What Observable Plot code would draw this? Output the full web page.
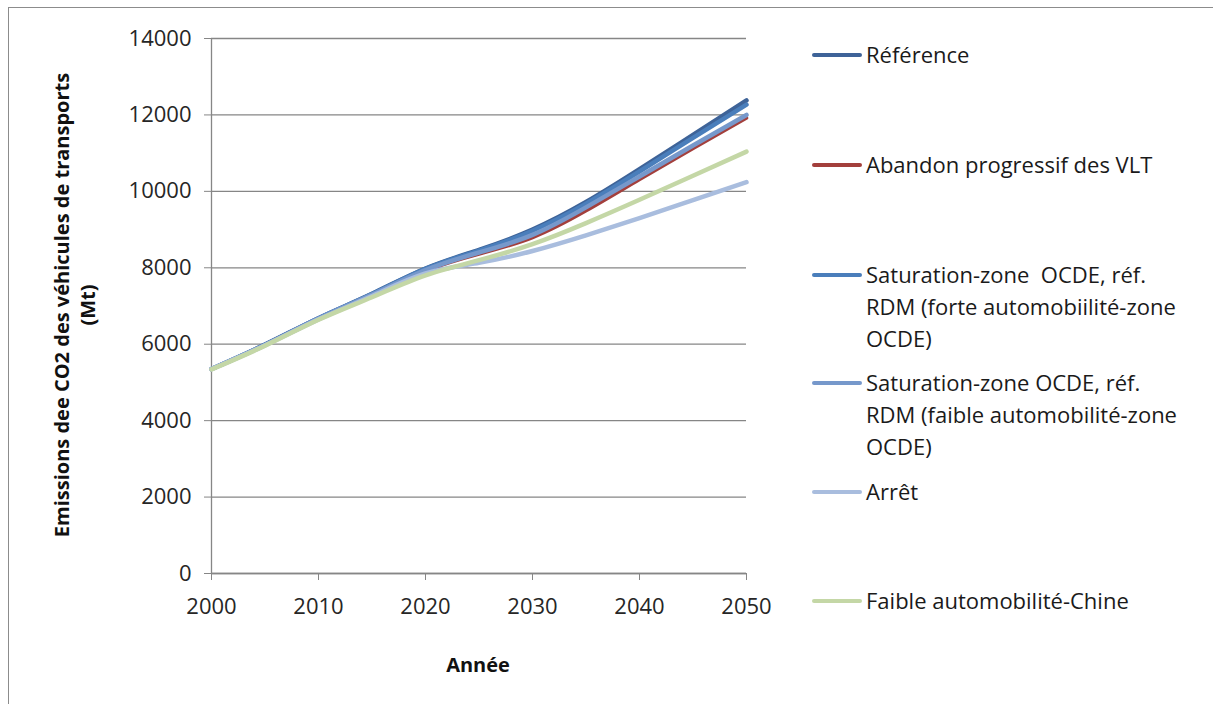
<!DOCTYPE html>
<html>
<head>
<meta charset="utf-8">
<script src="https://cdn.jsdelivr.net/npm/d3@7"></script>
<script src="https://cdn.jsdelivr.net/npm/@observablehq/plot@0.6"></script>
<style>
  body { margin: 0; background: #fff; font-family: "Open Sans", sans-serif; }
  #wrap { position: relative; width: 1213px; height: 704px; overflow: hidden; background: #fff; }
  #frame { position: absolute; left: 8px; top: 7px; width: 1240px; height: 740px; border: 1px solid #8c8c8c; box-sizing: border-box; }
  #chart { position: absolute; left: 0; top: 0; }
  .item { position: absolute; left: 812px; }
  .swatch { position: absolute; left: 0; width: 50px; height: 4px; border-radius: 2px; }
  .label { position: absolute; left: 54px; width: 340px; font-size: 22px; line-height: 32px; color: #1a1a1a; white-space: pre; }
</style>
</head>
<body>
<div id="wrap">
  <div id="frame"></div>
  <div id="chart"></div>
  <div id="legend"></div>
</div>
<script>
// ---- Data ----
const years = [2000, 2005, 2010, 2015, 2020, 2025, 2030, 2035, 2040, 2045, 2050];
const reference = [5350, 5990, 6680, 7320, 7980, 8470, 9000, 9720, 10580, 11480, 12380];
const abandon   = [5350, 5980, 6670, 7290, 7920, 8360, 8790, 9490, 10310, 11120, 11920];
const satForte  = [5350, 5985, 6680, 7310, 7970, 8450, 8970, 9680, 10520, 11400, 12270];
const satFaible = [5350, 5980, 6670, 7300, 7940, 8400, 8860, 9580, 10390, 11200, 12000];
const arret     = [5350, 5970, 6650, 7260, 7850, 8130, 8440, 8850, 9300, 9770, 10240];
const chine     = [5340, 5960, 6640, 7230, 7800, 8200, 8620, 9170, 9780, 10410, 11040];

const seriesNames = [
  "Référence",
  "Abandon progressif des VLT",
  "Saturation-zone  OCDE, réf. RDM (forte automobiilité-zone OCDE)",
  "Saturation-zone OCDE, réf. RDM (faible automobilité-zone OCDE)",
  "Arrêt",
  "Faible automobilité-Chine"
];
const legendLabels = [
  "Référence",
  "Abandon progressif des VLT",
  "Saturation-zone  OCDE, réf.\nRDM (forte automobiilité-zone\nOCDE)",
  "Saturation-zone OCDE, réf.\nRDM (faible automobilité-zone\nOCDE)",
  "Arrêt",
  "Faible automobilité-Chine"
];
const seriesValues = [reference, abandon, satForte, satFaible, arret, chine];
const seriesColors = ["#3E6398", "#A33F3C", "#4A7EBB", "#7698CB", "#A9BDDE", "#C4D7A6"];
const seriesWidths = [4.5, 3.5, 4.5, 4.5, 4.5, 4.5];
const legendY = [55, 165, 275, 383, 492, 601];

const yTicks = [0, 2000, 4000, 6000, 8000, 10000, 12000, 14000];
const xTicks = [2000, 2010, 2020, 2030, 2040, 2050];
const yLabel = ["Emissions dee CO2 des véhicules de transports", "(Mt)"];
const xLabel = "Année";

// ---- Build rows ----
const rows = [];
seriesValues.forEach((vals, i) => {
  vals.forEach((v, j) => rows.push({ series: seriesNames[i], year: years[j], value: v }));
});

const axisColor = "#868686";
const textColor = "#262626";

const lineMarks = seriesNames.map((name, i) =>
  Plot.line(rows.filter(r => r.series === name), {
    x: "year", y: "value",
    stroke: seriesColors[i], strokeWidth: seriesWidths[i],
    curve: "natural", strokeLinecap: "round", strokeLinejoin: "round"
  })
);

const chart = Plot.plot({
  width: 1213,
  height: 704,
  marginLeft: 211,
  marginRight: 467,
  marginTop: 38,
  marginBottom: 131,
  x: { domain: [2000, 2050] },
  y: { domain: [0, 14000] },
  style: { fontFamily: "Open Sans, sans-serif", fontSize: "22px", background: "transparent", color: textColor },
  marks: [
    Plot.gridY(yTicks, { stroke: axisColor, strokeOpacity: 1, strokeWidth: 1.3 }),
    Plot.axisY(yTicks, { tickSize: 7, tickPadding: 13, tickFormat: d => String(d), stroke: axisColor, fill: textColor, label: null, fontSize: 22 }),
    Plot.axisX(xTicks, { tickSize: 7, tickPadding: 18, tickFormat: d => String(d), stroke: axisColor, fill: textColor, label: null, fontSize: 22 }),
    Plot.ruleX([2000], { stroke: axisColor, strokeWidth: 1.3 }),
    Plot.ruleY([0], { stroke: axisColor, strokeWidth: 1.3 }),
    ...lineMarks
  ]
});
document.getElementById("chart").appendChild(chart);

// axis titles
const svg = d3.select(chart);
const yl = svg.append("text")
  .attr("transform", "translate(62,305) rotate(-90)")
  .attr("text-anchor", "middle")
  .attr("font-family", "Open Sans, sans-serif")
  .attr("font-weight", "bold")
  .attr("font-size", 20)
  .attr("fill", "#111");
yl.append("tspan").attr("x", 0).attr("dy", "0.35em").text(yLabel[0]);
yl.append("tspan").attr("x", 0).attr("dy", "1.3em").text(yLabel[1]);

svg.append("text")
  .attr("x", 478).attr("y", 672)
  .attr("text-anchor", "middle")
  .attr("font-family", "Open Sans, sans-serif")
  .attr("font-weight", "bold")
  .attr("font-size", 20)
  .attr("fill", "#111")
  .text(xLabel);

// legend
const legend = document.getElementById("legend");
legendLabels.forEach((lab, i) => {
  const item = document.createElement("div");
  item.className = "item";
  item.style.top = legendY[i] + "px";
  const sw = document.createElement("div");
  sw.className = "swatch";
  sw.style.top = "-2px";
  sw.style.background = seriesColors[i];
  const tx = document.createElement("div");
  tx.className = "label";
  tx.style.top = "-17px";
  tx.textContent = lab;
  item.appendChild(sw);
  item.appendChild(tx);
  legend.appendChild(item);
});
</script>
</body>
</html>
